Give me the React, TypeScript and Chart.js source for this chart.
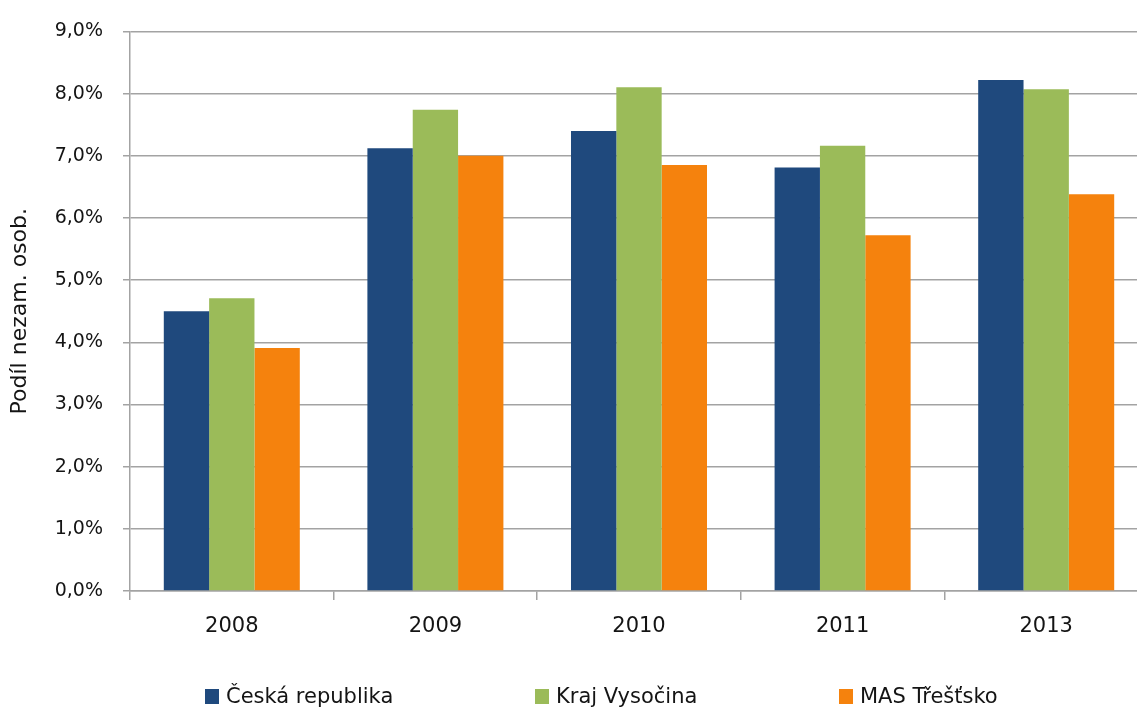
import React, { useEffect, useRef } from "react";
import { Chart, registerables } from "chart.js";

Chart.register(...registerables);

const categories = ["2008", "2009", "2010", "2011", "2013"];
const ceskaRepublika = [4.5, 7.12, 7.4, 6.81, 8.22];
const krajVysocina = [4.71, 7.74, 8.1, 7.16, 8.07];
const masTrestsko = [3.91, 7.0, 6.85, 5.72, 6.38];
const seriesNames = ["Česká republika", "Kraj Vysočina", "MAS Třešťsko"];
const seriesColors = ["#1F497D", "#9BBB59", "#F5820D"];
const yTitle = "Podíl nezam. osob.";

const FONT = "'DejaVu Sans', sans-serif";
const GRID = "#a3a3a3";
const TEXT = "#141414";

export default function App() {
  const ref = useRef<HTMLCanvasElement | null>(null);

  useEffect(() => {
    document.body.style.overflow = "hidden";
    const ctx = ref.current;
    if (!ctx) return;
    const chart = new Chart(ctx, {
      type: "bar",
      data: {
        labels: categories,
        datasets: [ceskaRepublika, krajVysocina, masTrestsko].map((d, i) => ({
          label: seriesNames[i],
          data: d,
          backgroundColor: seriesColors[i],
          borderWidth: 0,
          categoryPercentage: 0.668,
          barPercentage: 1,
        })),
      },
      options: {
        animation: false,
        responsive: false,
        maintainAspectRatio: false,
        layout: { padding: { top: 29, left: 0, right: 0, bottom: 0 } },
        plugins: { legend: { display: false }, tooltip: { enabled: false } },
        scales: {
          x: {
            offset: true,
            grid: {
              display: true,
              drawOnChartArea: false,
              drawTicks: true,
              tickLength: 9,
              color: GRID,
              lineWidth: 1.5,
              offset: true,
            },
            border: { display: true, color: GRID, width: 1.5 },
            ticks: {
              color: TEXT,
              font: { family: FONT, size: 21 },
              padding: 14,
              maxRotation: 0,
            },
            afterFit: (s: any) => {
              s.height = 117;
            },
          },
          y: {
            min: 0,
            max: 9,
            grid: { color: GRID, lineWidth: 1.5, tickLength: 7, drawTicks: true },
            border: { display: true, color: GRID, width: 1.5 },
            ticks: {
              stepSize: 1,
              color: TEXT,
              font: { family: FONT, size: 19 },
              padding: 20,
              callback: (v: any) => Number(v).toFixed(1).replace(".", ",") + "%",
            },
            title: {
              display: true,
              text: yTitle,
              color: TEXT,
              font: { family: FONT, size: 22 },
              padding: { top: 7, bottom: 0 },
            },
            afterFit: (s: any) => {
              s.width = 130;
            },
          },
        },
      },
    });
    return () => chart.destroy();
  }, []);

  const legendLeft = [205, 535, 839];

  return (
    <div
      style={{
        position: "fixed",
        left: 0,
        top: 0,
        width: 1148,
        height: 708,
        background: "#fff",
      }}
    >
      <canvas ref={ref} width={1148} height={708} style={{ display: "block", width: 1148, height: 708 }} />
      {seriesNames.map((name, i) => (
        <div
          key={name}
          style={{
            position: "absolute",
            left: legendLeft[i],
            top: 683,
            height: 26,
            display: "flex",
            alignItems: "center",
            fontFamily: FONT,
            fontSize: 21,
            color: TEXT,
            whiteSpace: "nowrap",
          }}
        >
          <span
            style={{
              display: "inline-block",
              width: 14,
              height: 15,
              background: seriesColors[i],
              marginRight: 7,
            }}
          />
          <span>{name}</span>
        </div>
      ))}
    </div>
  );
}
